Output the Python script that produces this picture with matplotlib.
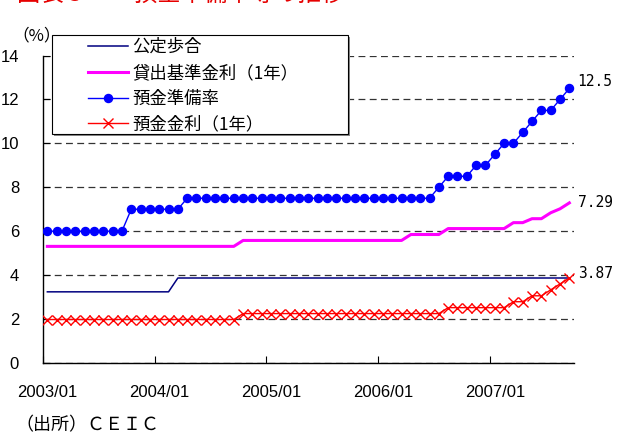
import matplotlib
matplotlib.use('Agg')
import matplotlib.pyplot as plt
import numpy as np
from matplotlib.lines import Line2D
from matplotlib.patches import Rectangle

plt.rcParams['font.family'] = ['Noto Sans CJK JP', 'DejaVu Sans']

# monthly series, 2003/01 - 2007/09 (%)
discount_rate = [3.24, 3.24, 3.24, 3.24, 3.24, 3.24, 3.24, 3.24, 3.24, 3.24, 3.24, 3.24,
                 3.24, 3.24, 3.87, 3.87, 3.87, 3.87, 3.87, 3.87, 3.87, 3.87, 3.87, 3.87,
                 3.87, 3.87, 3.87, 3.87, 3.87, 3.87, 3.87, 3.87, 3.87, 3.87, 3.87, 3.87,
                 3.87, 3.87, 3.87, 3.87, 3.87, 3.87, 3.87, 3.87, 3.87, 3.87, 3.87, 3.87,
                 3.87, 3.87, 3.87, 3.87, 3.87, 3.87, 3.87, 3.87, 3.87]
lending_rate = [5.31, 5.31, 5.31, 5.31, 5.31, 5.31, 5.31, 5.31, 5.31, 5.31, 5.31, 5.31,
                5.31, 5.31, 5.31, 5.31, 5.31, 5.31, 5.31, 5.31, 5.31, 5.58, 5.58, 5.58,
                5.58, 5.58, 5.58, 5.58, 5.58, 5.58, 5.58, 5.58, 5.58, 5.58, 5.58, 5.58,
                5.58, 5.58, 5.58, 5.85, 5.85, 5.85, 5.85, 6.12, 6.12, 6.12, 6.12, 6.12,
                6.12, 6.12, 6.39, 6.39, 6.57, 6.57, 6.84, 7.02, 7.29]
reserve_ratio = [6.0, 6.0, 6.0, 6.0, 6.0, 6.0, 6.0, 6.0, 6.0, 7.0, 7.0, 7.0,
                 7.0, 7.0, 7.0, 7.5, 7.5, 7.5, 7.5, 7.5, 7.5, 7.5, 7.5, 7.5,
                 7.5, 7.5, 7.5, 7.5, 7.5, 7.5, 7.5, 7.5, 7.5, 7.5, 7.5, 7.5,
                 7.5, 7.5, 7.5, 7.5, 7.5, 7.5, 8.0, 8.5, 8.5, 8.5, 9.0, 9.0,
                 9.5, 10.0, 10.0, 10.5, 11.0, 11.5, 11.5, 12.0, 12.5]
deposit_rate = [1.98, 1.98, 1.98, 1.98, 1.98, 1.98, 1.98, 1.98, 1.98, 1.98, 1.98, 1.98,
                1.98, 1.98, 1.98, 1.98, 1.98, 1.98, 1.98, 1.98, 1.98, 2.25, 2.25, 2.25,
                2.25, 2.25, 2.25, 2.25, 2.25, 2.25, 2.25, 2.25, 2.25, 2.25, 2.25, 2.25,
                2.25, 2.25, 2.25, 2.25, 2.25, 2.25, 2.25, 2.52, 2.52, 2.52, 2.52, 2.52,
                2.52, 2.52, 2.79, 2.79, 3.06, 3.06, 3.33, 3.60, 3.87]

tick_idx = [0, 12, 24, 36, 48]
tick_labels = ['2003/01', '2004/01', '2005/01', '2006/01', '2007/01']
series_names = ['公定歩合', '貸出基準金利（1年）', '預金準備率', '預金金利（1年）']

num_font = ['Liberation Sans Narrow', 'Liberation Sans', 'DejaVu Sans']
W, H = 628, 436

fig = plt.figure(figsize=(W / 100, H / 100), dpi=100)
ax = fig.add_axes([42.7 / W, 1 - 363 / H, (574 - 42.7) / W, (363 - 55.5) / H])

x = np.arange(len(reserve_ratio))
ax.plot(x, discount_rate, color='#000080', lw=1.1, zorder=3)
ax.plot(x, lending_rate, color='#ff00ff', lw=2.2, zorder=3)
ax.plot(x, reserve_ratio, color='#0000ff', lw=1.0, marker='o', ms=5.8, zorder=4)
ax.plot(x, deposit_rate, color='#ff0000', lw=1.0, marker='x', ms=7.5, mew=1.0, zorder=4)

# end-of-period values
last = len(x) - 1
for vals, dy in [(reserve_ratio, 5), (lending_rate, 0), (deposit_rate, 3)]:
    ax.annotate(f'{vals[-1]:g}', (x[last], vals[-1]), xytext=(6, dy),
                textcoords='offset points', va='center', ha='left',
                fontsize=10.5, family='DejaVu Sans Mono')

ax.set_xlim(-0.5, len(x) - 0.5)
ax.set_ylim(0, 14)
ax.set_xticks([i - 0.5 for i in tick_idx])
ax.set_xticklabels([])
ax.set_xticks(tick_idx, minor=True)
ax.set_xticklabels(tick_labels, minor=True, family=num_font, fontsize=12)
ax.tick_params(axis='x', which='major', direction='in', length=5, width=0.8)
ax.tick_params(axis='x', which='minor', length=0, pad=15.5)
ax.set_yticks(range(0, 15, 2))
ax.set_yticklabels([str(v) for v in range(0, 15, 2)], family=num_font, fontsize=12)
ax.tick_params(axis='y', direction='in', length=5, width=0.8, pad=17)

ax.yaxis.grid(True, linestyle=(0, (5.5, 3.5)), color='#333333', lw=0.9)
ax.set_axisbelow(True)
for side in ['top', 'right']:
    ax.spines[side].set_visible(False)
for side in ['left', 'bottom']:
    ax.spines[side].set_linewidth(1.0)

# legend box with a gray drop shadow
bx0, by0, bx1, by1 = 52, 35, 348, 134
fig.add_artist(Rectangle(((bx0 + 2) / W, 1 - (by1 + 2) / H), (bx1 - bx0) / W,
                         (by1 - by0) / H, transform=fig.transFigure,
                         facecolor='#888888', edgecolor='none', zorder=3))
fig.add_artist(Rectangle((bx0 / W, 1 - by1 / H), (bx1 - bx0) / W, (by1 - by0) / H,
                         transform=fig.transFigure, facecolor='white',
                         edgecolor='black', lw=0.8, zorder=3.5))
handles = [Line2D([], [], color='#000080', lw=1.1),
           Line2D([], [], color='#ff00ff', lw=2.2),
           Line2D([], [], color='#0000ff', lw=1.0, marker='o', ms=5.8),
           Line2D([], [], color='#ff0000', lw=1.0, marker='x', ms=7.5, mew=1.0)]
fig.legend(handles, series_names, loc='upper left',
           bbox_to_anchor=(88 / W, 1 - 38 / H), frameon=False, fontsize=12.5,
           borderpad=0, borderaxespad=0, handlelength=2.3, handletextpad=0.25,
           labelspacing=0.45)

fig.text(12 / W, 1 - 36 / H, '（%）', fontsize=12, va='center', ha='left')
fig.text(15 / W, 1 - 425 / H, '（出所）ＣＥＩＣ', fontsize=13, va='center', ha='left')
fig.text(17 / W, 1 - 6 / H, '図表５　　預金準備率等の推移', fontsize=16.8,
         color='#e60000', va='bottom', ha='left')

fig.savefig('out.png', dpi=100)
